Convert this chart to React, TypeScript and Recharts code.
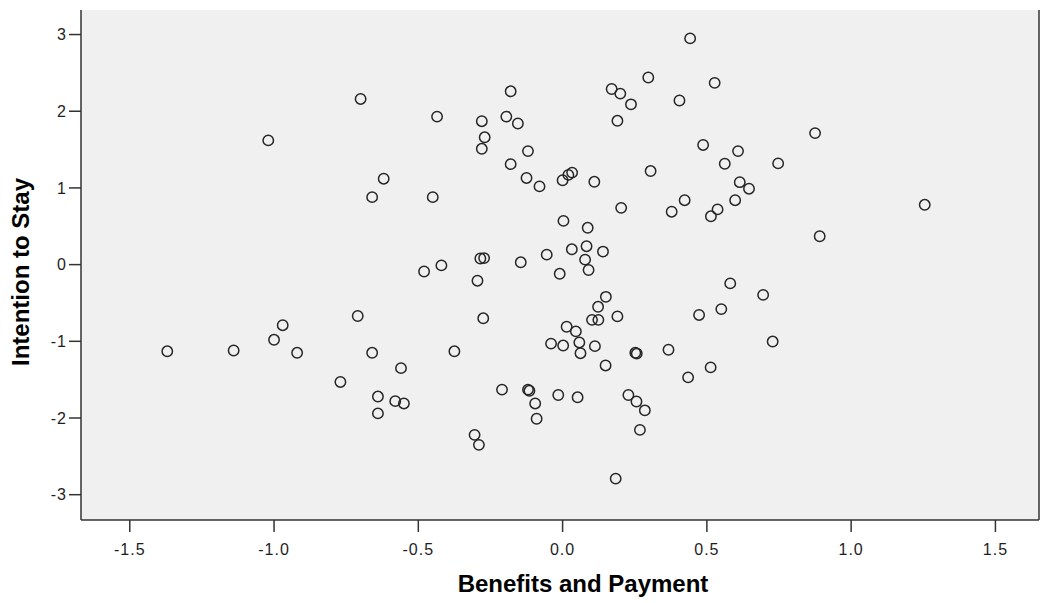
import React from "react";
import { ScatterChart, Scatter, XAxis, YAxis, CartesianGrid } from "recharts";

// Benefits and Payment (x) / Intention to Stay (y), one entry per respondent
const benefitsPayment = [
  -1.37, -1.14, -1.0, -0.97, -0.92, -1.02, -0.7, -0.62, -0.66, -0.71, -0.66, -0.77, -0.64, -0.64, -0.58, -0.55,
  -0.56, -0.435, -0.45, -0.18, -0.28, -0.195, -0.155, -0.27, -0.28, -0.12, -0.18, -0.125, -0.08, -0.285, -0.272,
  -0.42, -0.48, -0.145, -0.055, -0.295, -0.275, -0.375, -0.21, -0.12, -0.115, -0.095, -0.09, -0.305, -0.29, -0.04,
  -0.015, -0.01, 0.0, 0.02, 0.033, 0.11, 0.17, 0.2, 0.237, 0.297, 0.405, 0.442, 0.527, 0.19, 0.305, 0.487, 0.203,
  0.378, 0.423, 0.003, 0.087, 0.032, 0.083, 0.14, 0.078, 0.09, 0.15, 0.123, 0.102, 0.124, 0.19, 0.014, 0.046, 0.002,
  0.058, 0.062, 0.112, 0.149, 0.252, 0.257, 0.367, 0.052, 0.228, 0.256, 0.285, 0.268, 0.184, 0.435, 0.513, 0.473,
  0.55, 0.581, 0.695, 0.728, 0.875, 0.608, 0.562, 0.747, 0.614, 0.646, 0.598, 0.537, 0.514, 1.255, 0.891,
];

const intentionToStay = [
  -1.13, -1.12, -0.98, -0.79, -1.15, 1.62, 2.16, 1.12, 0.88, -0.67, -1.15, -1.53, -1.72, -1.94, -1.78, -1.81,
  -1.35, 1.93, 0.88, 2.26, 1.87, 1.93, 1.84, 1.66, 1.51, 1.48, 1.31, 1.13, 1.02, 0.08, 0.085,
  -0.01, -0.09, 0.03, 0.13, -0.21, -0.7, -1.13, -1.63, -1.63, -1.645, -1.81, -2.01, -2.22, -2.35, -1.03,
  -1.7, -0.12, 1.1, 1.17, 1.2, 1.08, 2.29, 2.23, 2.09, 2.44, 2.14, 2.95, 2.37, 1.875, 1.22, 1.56, 0.74,
  0.69, 0.84, 0.57, 0.48, 0.2, 0.24, 0.17, 0.065, -0.07, -0.42, -0.55, -0.72, -0.72, -0.675, -0.81, -0.87, -1.055,
  -1.015, -1.155, -1.063, -1.315, -1.15, -1.16, -1.11, -1.73, -1.7, -1.785, -1.9, -2.155, -2.79, -1.47, -1.34, -0.656,
  -0.58, -0.245, -0.395, -1.003, 1.715, 1.48, 1.315, 1.32, 1.075, 0.99, 0.84, 0.72, 0.63, 0.78, 0.37,
];

const xTicks = [-1.5, -1.0, -0.5, 0.0, 0.5, 1.0, 1.5];
const yTicks = [-3, -2, -1, 0, 1, 2, 3];

const data = benefitsPayment.map((x, i) => ({ x, y: intentionToStay[i] }));

const axisColor = "#333333";
const tickStyle = { fill: "#1e1e1e", fontSize: 16, letterSpacing: 1 };

const OpenCircle = (props: any) => (
  <circle cx={props.cx} cy={props.cy} r={5.2} fill="none" stroke="#262626" strokeWidth={1.5} />
);

export default function App() {
  return (
    <div
      style={{
        position: "absolute",
        left: 0,
        top: 0,
        width: 1040,
        height: 603,
        background: "#ffffff",
        fontFamily: "'Liberation Sans', Arial, sans-serif",
      }}
    >
      <ScatterChart width={1040} height={603} margin={{ top: 10, right: 0, bottom: 0, left: 0 }}>
        <CartesianGrid fill="#f0f0f0" horizontal={false} vertical={false} />
        <XAxis
          dataKey="x"
          type="number"
          domain={[-1.669, 1.651]}
          allowDataOverflow
          ticks={xTicks}
          tickFormatter={(v: number) => v.toFixed(1)}
          height={83}
          tickSize={12}
          tickMargin={12}
          tick={tickStyle}
          axisLine={{ stroke: axisColor, strokeWidth: 1.5 }}
          tickLine={{ stroke: axisColor, strokeWidth: 1.5 }}
        />
        <YAxis
          dataKey="y"
          type="number"
          domain={[-3.33, 3.32]}
          allowDataOverflow
          ticks={yTicks}
          width={81}
          tickSize={12}
          tickMargin={2}
          tick={tickStyle}
          axisLine={{ stroke: axisColor, strokeWidth: 1.5 }}
          tickLine={{ stroke: axisColor, strokeWidth: 1.5 }}
        />
        <XAxis
          xAxisId="top"
          orientation="top"
          type="number"
          domain={[-1.669, 1.651]}
          height={0}
          tick={false}
          tickLine={false}
          axisLine={{ stroke: axisColor, strokeWidth: 1.5 }}
        />
        <YAxis
          yAxisId="right"
          orientation="right"
          type="number"
          domain={[-3.33, 3.32]}
          width={1}
          tick={false}
          tickLine={false}
          axisLine={{ stroke: axisColor, strokeWidth: 1.5 }}
        />
        <Scatter data={data} shape={OpenCircle} isAnimationActive={false} />
      </ScatterChart>
      <div
        style={{
          position: "absolute",
          left: 433,
          top: 572,
          width: 300,
          height: 24,
          lineHeight: "24px",
          fontSize: 24,
          fontWeight: "bold",
          textAlign: "center",
          color: "#000",
        }}
      >
        Benefits and Payment
      </div>
      <div
        style={{
          position: "absolute",
          left: 21 - 150,
          top: 272 - 12,
          width: 300,
          height: 24,
          lineHeight: "24px",
          fontSize: 24,
          fontWeight: "bold",
          textAlign: "center",
          color: "#000",
          transform: "rotate(-90deg)",
        }}
      >
        Intention to Stay
      </div>
    </div>
  );
}
